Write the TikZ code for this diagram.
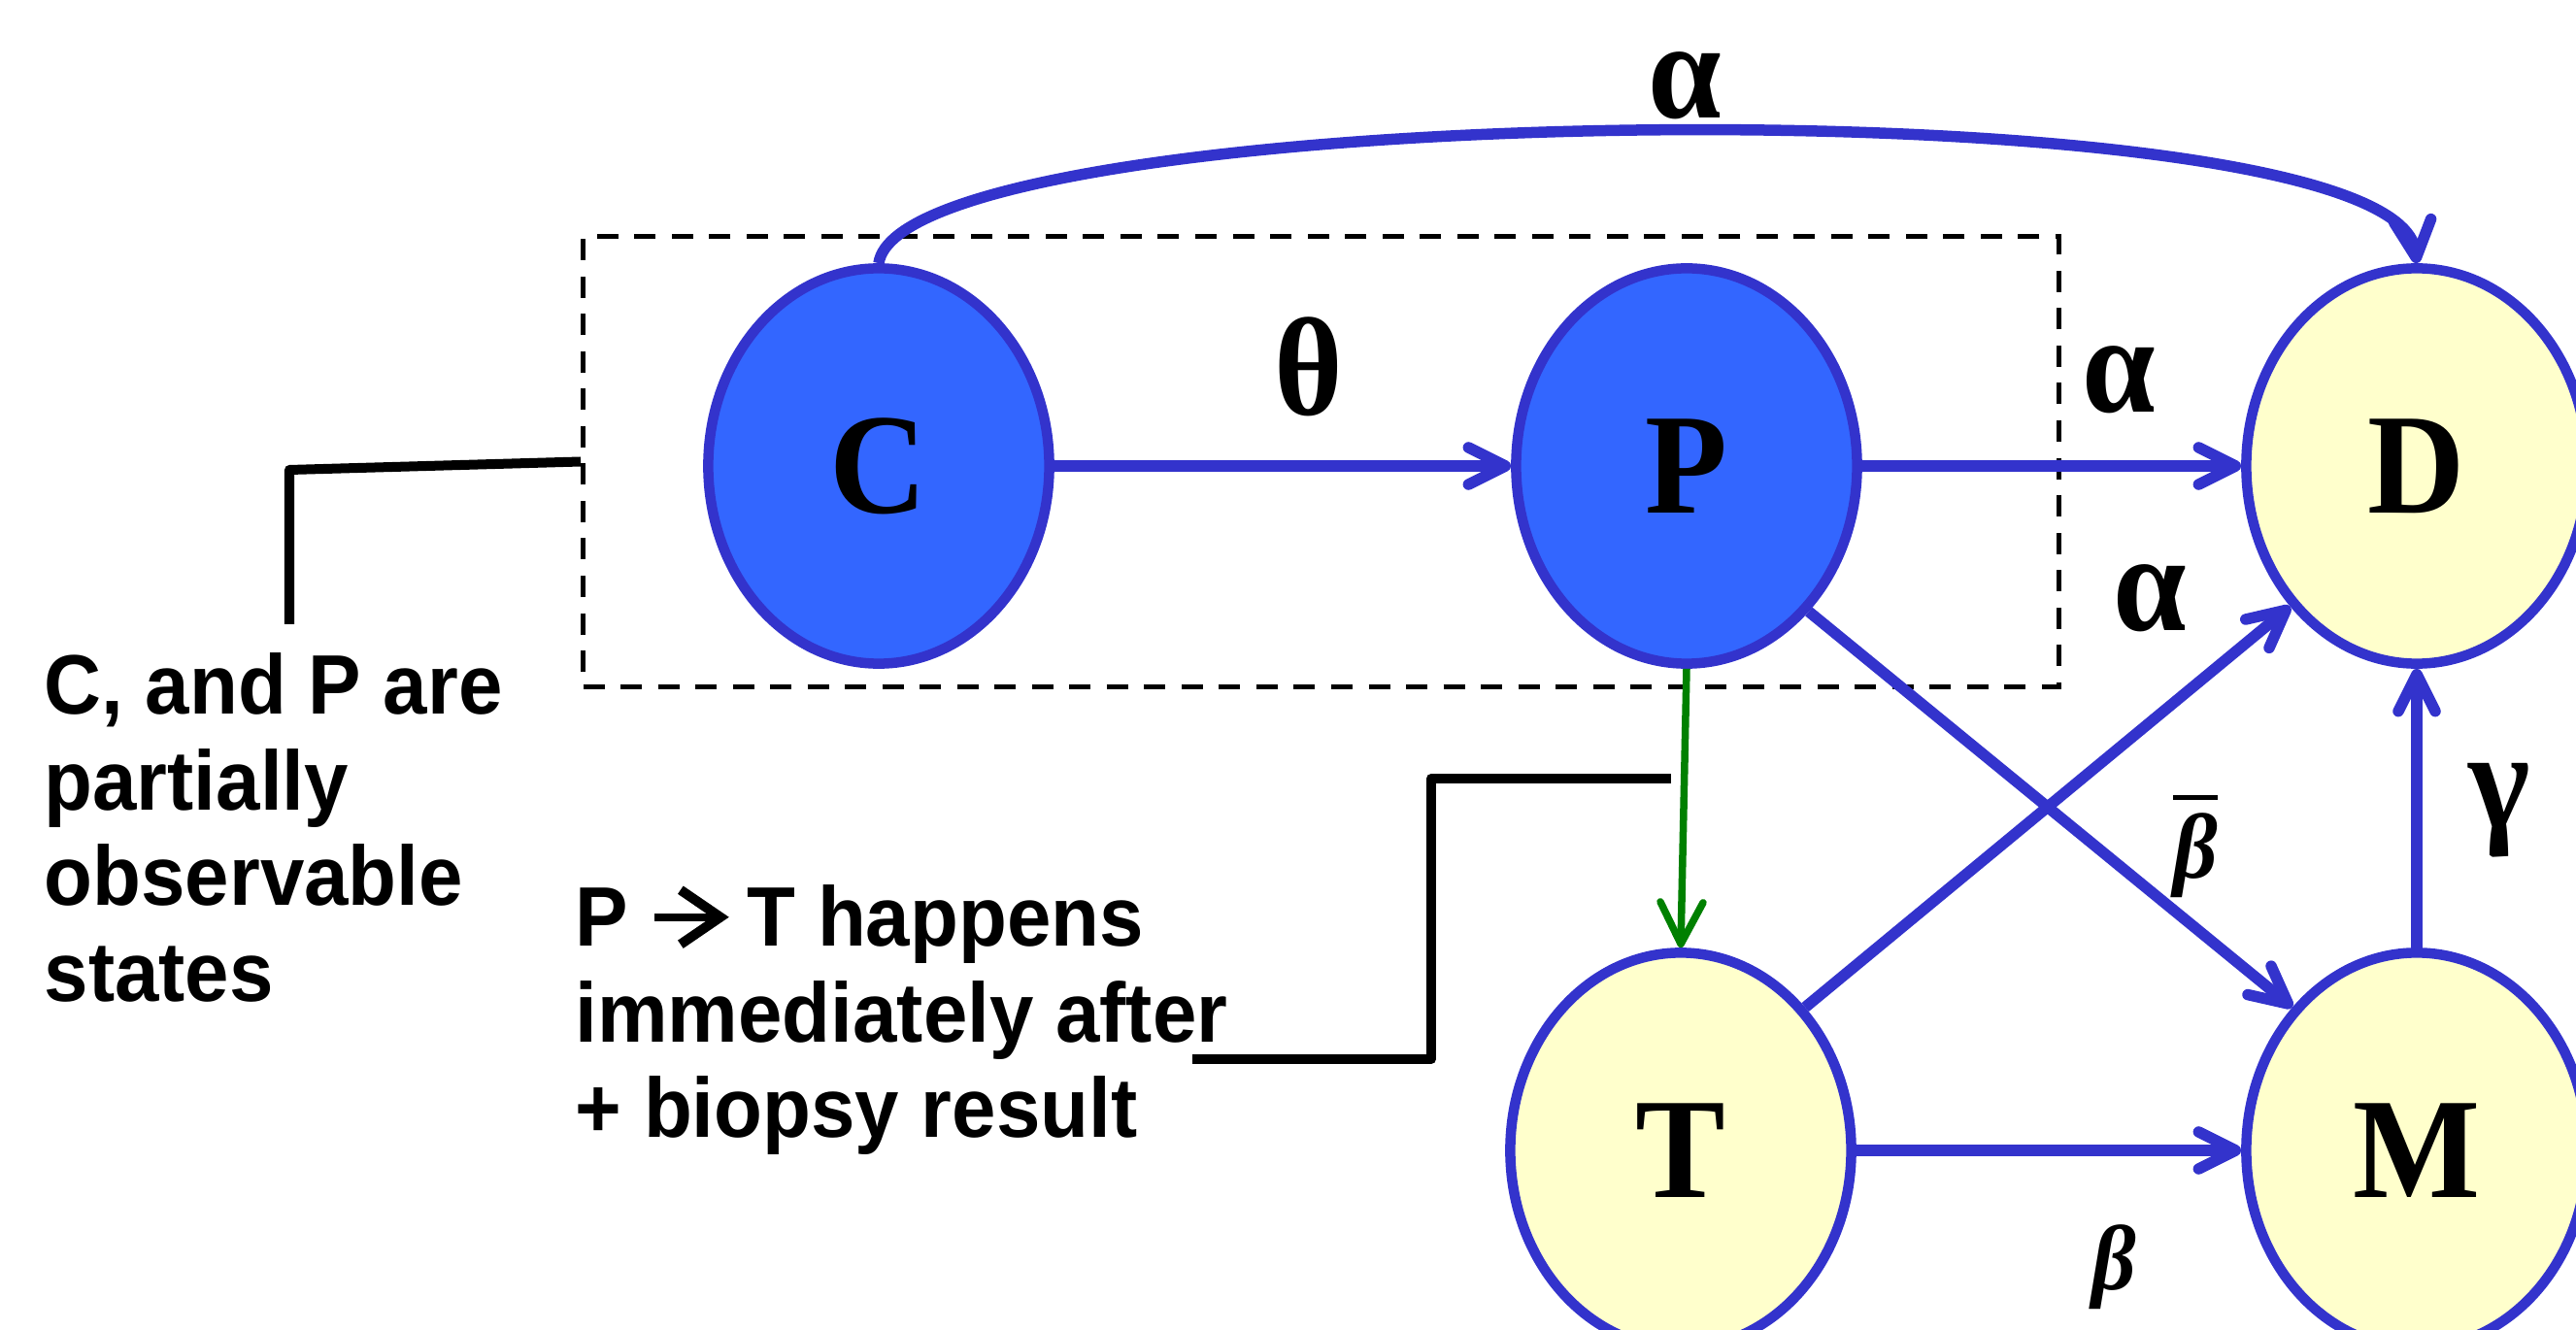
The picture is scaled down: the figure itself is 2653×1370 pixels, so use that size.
\documentclass[tikz,border=0pt]{standalone}
\usepackage{fontspec}
\setmainfont{Liberation Sans}[FakeStretch=0.94]
\newfontfamily\serifb{Liberation Serif}[FakeStretch=0.94]
\usetikzlibrary{shapes.geometric,arrows.meta}
\definecolor{edgeblue}{HTML}{3333CC}
\definecolor{fillblue}{HTML}{3366FF}
\definecolor{fillyellow}{HTML}{FFFFCC}
\definecolor{darkgreen}{HTML}{008000}
\newcommand{\barbeta}{{\setbox0\hbox{β}\vbox{\hrule width\wd0 height 1.4pt\kern 4pt\box0}}}
\newcommand{\chevarrow}{\tikz[x=1cm,y=1cm,baseline=0pt]{\draw[line width=0.08cm] (0,0.30) -- (0.66,0.30);
  \draw[line width=0.1cm, line join=miter] (0.27,0.58) -- (0.68,0.30) -- (0.27,0.02);}}
\begin{document}
\begin{tikzpicture}[x=0.01cm,y=-0.01cm,
  state/.style={ellipse, draw=edgeblue, line width=0.105cm, minimum width=3.51cm,
    minimum height=4.07cm, inner sep=0pt, font=\serifb\bfseries\fontsize{42}{46}\selectfont},
  hiddenstate/.style={state, fill=fillblue},
  obsstate/.style={state, fill=fillyellow},
  flow/.style={draw=edgeblue, line width=0.115cm, -{Straight Barb[length=3.8mm,width=3.8mm,round]}},
  greenflow/.style={draw=darkgreen, line width=0.075cm, -{Straight Barb[length=4.3mm,width=4.4mm,round]}},
  glabel/.style={inner sep=0pt, font=\serifb\bfseries\fontsize{41}{45}\selectfont},
  blabel/.style={inner sep=0pt, font=\serifb\bfseries\itshape\fontsize{27}{30}\selectfont},
  note/.style={inner sep=0pt, align=left, font=\bfseries\fontsize{24.7}{28}\selectfont},
  callout/.style={draw=black, line width=0.1cm, line join=round},
  groupbox/.style={draw=black, line width=0.05cm, dash pattern=on 0.22cm off 0.165cm,
    minimum width=15.19cm, minimum height=4.63cm, inner sep=0pt}
]
\useasboundingbox (0,0) rectangle (2653,1370);
\clip (0,0) rectangle (2653,1370);

% dashed group box
\node[groupbox] (grp) at (1360.5,475.5) {};

% states
\node[hiddenstate] (C) at (905,480) {C};
\node[hiddenstate] (P) at (1737,480) {P};
\node[obsstate] (D) at (2489,480) {D};
\node[obsstate] (T) at (1731,1185) {T};
\node[obsstate] (M) at (2489,1185) {M};

% transitions
\draw[flow] (C.east) -- (P.west);
\draw[flow] (P.east) -- (D.west);
\draw[flow] (C.north) .. controls (930,100) and (2470,80) .. (D.north);
\draw[flow] (P.-50) -- (M.131);
\draw[flow] (T.49) -- (D.228);
\draw[flow] (T.east) -- (M.west);
\draw[flow] (M.north) -- (D.south);
\draw[greenflow] (P.south) -- (T.north);

% rate labels
\node[glabel] (atop) at (1735,88) {α};
\node[glabel] (theta) at (1348,378) {θ};
\node[glabel] (aPD) at (2182,391) {α};
\node[glabel] (aTD) at (2214,616) {α};
\node[glabel] (gam) at (2574,835) {γ};
\node[blabel] (bbar) at (2261,872) {\barbeta};
\node[blabel] (bet) at (2177,1305) {β};

% notes
\node[note, anchor=north west] (noteA) at (45,672) {C, and P are\\partially\\observable\\states};
\node[note, anchor=north west] (noteB) at (592,911) {P \chevarrow{} T happens\\immediately after\\+ biopsy result};

% callout lines
\coordinate (cA) at (298,643);
\coordinate (cB) at (1721,802);
\coordinate (cB2) at (1228,1091);
\draw[callout] (cA) -- (298,484) -- (grp.west);
\draw[callout] (cB) -- (1474,802) -- (1474,1091) -- (cB2);
\end{tikzpicture}
\end{document}
